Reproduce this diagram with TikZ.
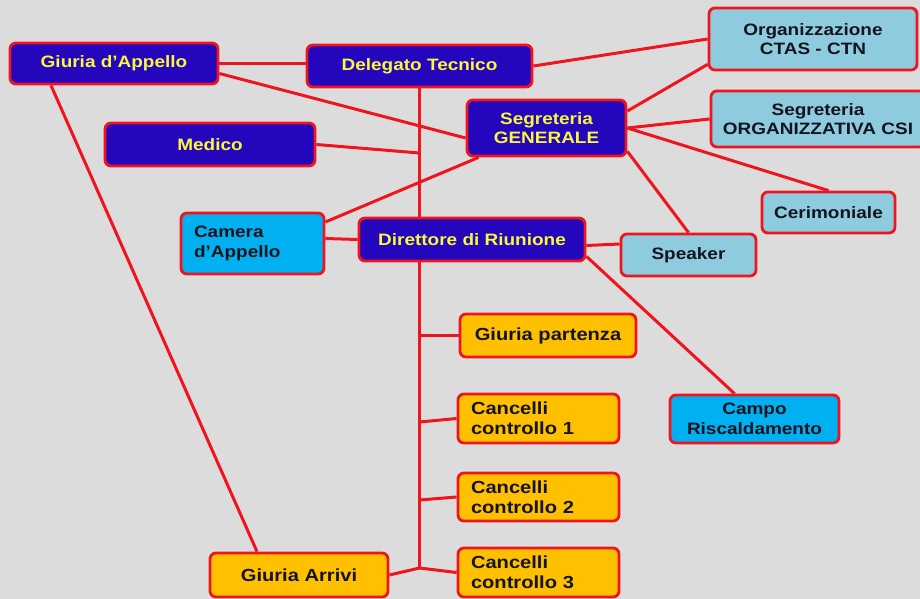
\documentclass[tikz,border=0pt]{standalone}
\usepackage{fontspec}
\setmainfont{Liberation Sans}[FakeStretch=1.15]
\usetikzlibrary{calc}
\definecolor{mydark}{RGB}{36,6,188}
\definecolor{myyellow}{RGB}{250,248,60}
\definecolor{mylight}{RGB}{143,203,222}
\definecolor{mycyan}{RGB}{0,176,240}
\definecolor{myorange}{RGB}{255,192,0}
\definecolor{myred}{RGB}{240,20,30}
\definecolor{mybg}{RGB}{220,220,220}
\definecolor{mytext}{RGB}{20,20,30}
\pgfdeclarelayer{bglayer}
\pgfdeclarelayer{lines}
\pgfsetlayers{bglayer,lines,main}
\begin{document}
\begin{tikzpicture}[x=1pt,y=-1pt,
  box/.style={draw=myred, line width=2.8pt, rounded corners=6pt, font=\bfseries\fontsize{16.5}{19.5}\selectfont, inner sep=0pt, align=center},
  dark/.style={box, fill=mydark, text=myyellow},
  light/.style={box, fill=mylight, text=mytext},
  cyanb/.style={box, fill=mycyan, text=mytext},
  orangeb/.style={box, fill=myorange, text=mytext, font=\bfseries\fontsize{17.5}{20}\selectfont},
  conn/.style={draw=myred, line width=3pt}]
\useasboundingbox (0,0) rectangle (920,599);
\begin{pgfonlayer}{bglayer}
\fill[mybg] (0,0) rectangle (920,599);
\end{pgfonlayer}

\node[dark, minimum width=208pt, minimum height=41pt] (ga) at (114,63.5) {Giuria d’Appello};
\node[dark, minimum width=225pt, minimum height=42pt] (dt) at (419.5,66) {Delegato Tecnico};
\node[dark, minimum width=159pt, minimum height=56pt] (sg) at (546.5,128) {Segreteria\\GENERALE};
\node[dark, minimum width=210pt, minimum height=43pt] (me) at (210,144.5) {Medico};
\node[dark, minimum width=226pt, minimum height=43pt] (dr) at (472,239.5) {Direttore di Riunione};

\node[light, minimum width=208pt, minimum height=62pt] (oc) at (813,39) {Organizzazione\\CTAS - CTN};
\node[light, minimum width=214pt, minimum height=56pt] (so) at (818,119) {Segreteria\\ORGANIZZATIVA CSI};
\node[light, minimum width=133pt, minimum height=41pt] (ce) at (828.5,212.5) {Cerimoniale};
\node[light, minimum width=135pt, minimum height=42pt] (sp) at (688.5,255) {Speaker};

\node[cyanb, minimum height=61pt, text width=117pt, align=left, inner xsep=13pt] (ca) at (252.5,243.5) {Camera\\d’Appello};
\node[cyanb, minimum width=169pt, minimum height=48pt] (cr) at (754.5,419) {Campo\\Riscaldamento};

\node[orangeb, minimum width=176pt, minimum height=43pt] (gp) at (548,335.5) {Giuria partenza};
\node[orangeb, minimum height=49pt, text width=135pt, align=left, inner xsep=13pt] (c1) at (538.5,418.5) {Cancelli\\controllo 1};
\node[orangeb, minimum height=48pt, text width=135pt, align=left, inner xsep=13pt] (c2) at (538.5,497) {Cancelli\\controllo 2};
\node[orangeb, minimum height=49pt, text width=135pt, align=left, inner xsep=13pt] (c3) at (538.5,572.5) {Cancelli\\controllo 3};
\node[orangeb, minimum width=178pt, minimum height=44pt] (gr) at (299,575) {Giuria Arrivi};

\coordinate (j1) at (419.5,153);
\coordinate (j2) at (419.5,335.5);
\coordinate (j3) at (419.5,422);
\coordinate (j4) at (419.5,500);
\coordinate (t) at (419.5,568);

\begin{pgfonlayer}{lines}
\path[conn] (ga.east) -- (ga.east -| dt.west);
\path[conn] ([yshift=-10pt]ga.east) -- ([yshift=-10pt]sg.west);
\path[conn] ([xshift=-63pt]ga.south) -- ([xshift=-42pt]gr.north);
\path[conn] (dt.east) -- (oc.west);
\path[conn] (dt.south) -- (t);
\path[conn] (me.east) -- (j1);
\path[conn] ([yshift=21.5pt]ca.east) -- ([xshift=13pt]sg.south west);
\path[conn] ([yshift=5pt]ca.east) -- (dr.west);
\path[conn] ([yshift=17pt]sg.east) -- ([yshift=7pt]oc.south west);
\path[conn] (sg.east) -- (so.west);
\path[conn] (sg.east) -- (ce.north);
\path[conn] ([yshift=6pt]sg.south east) -- (sp.north);
\path[conn] ([yshift=-6pt]dr.east) -- ([yshift=11pt]sp.west);
\path[conn] ([yshift=6pt]dr.south east) -- ([xshift=-20pt]cr.north);
\path[conn] (j2) -- (gp.west);
\path[conn] (j3) -- (c1.west);
\path[conn] (j4) -- (c2.west);
\path[conn] (t) -- (gr.east);
\path[conn] (t) -- (c3.west);
\end{pgfonlayer}
\end{tikzpicture}
\end{document}
